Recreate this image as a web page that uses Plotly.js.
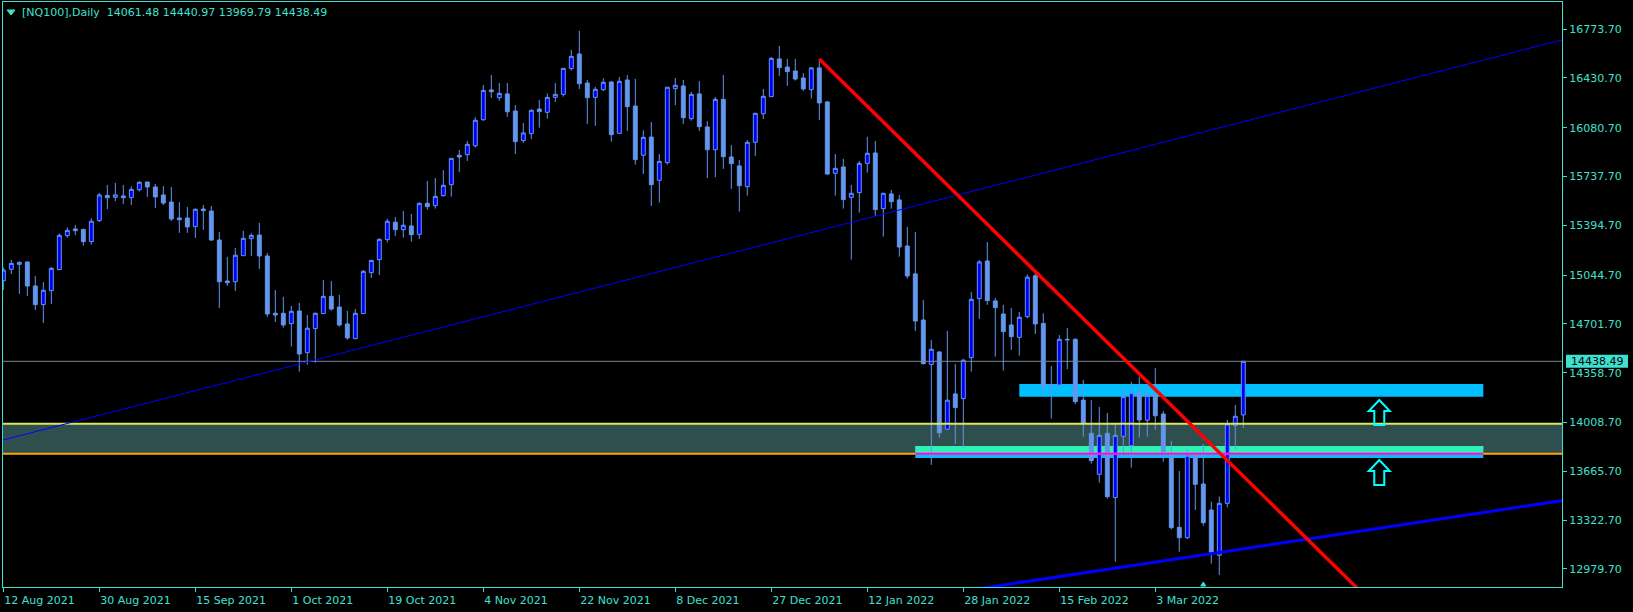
<!DOCTYPE html>
<html><head><meta charset="utf-8">
<script src="https://cdn.plot.ly/plotly-3.0.1.min.js"></script>
<style>html,body{margin:0;padding:0;background:#000;}#chart{width:1633px;height:612px;}</style>
</head><body><div id="chart"></div>
<script>
// ---- Daily OHLC, NQ100, 12 Aug 2021 .. 18 Mar 2022 (one entry per bar) ----
const openP = [15005,15085,15120,15137,14968,14837,14935,15083,15322,15369,15366,15280,15427,15605,15591,15601,15589,15645,15699,15664,
15608,15558,15446,15446,15385,15509,15495,15291,15003,14998,15181,15301,15326,15179,14776,14776,14703,14792,14499,14668,
14774,14895,14820,14701,14598,14774,15062,15153,15294,15416,15364,15390,15331,15549,15533,15603,15680,15887,15891,15954,
16137,16346,16292,16318,16198,15990,16039,16212,16189,16294,16315,16496,16599,16395,16294,16348,16402,16041,16416,16233,
15887,16015,15711,15835,16355,16374,16144,16318,16086,15926,16280,15875,15812,15666,15978,16179,16299,16564,16507,16479,
16430,16348,16501,16262,15760,15805,15591,15624,15830,15903,15512,15615,15573,15249,15053,14729,14417,14504,13961,14209,
14176,14464,14879,15144,14863,14771,14694,14607,14752,15040,14705,14263,14272,14593,14593,14166,13932,13644,13932,13480,
13911,13845,14223,14024,14197,14068,13768,13271,13199,13778,13576,13393,13075,13440,13988,14061.48];
const highP = [15099,15151,15141,15137,15038,14996,15102,15338,15380,15397,15369,15444,15622,15678,15692,15678,15669,15704,15699,15685,
15671,15664,15558,15523,15514,15537,15530,15348,15172,15235,15355,15338,15411,15200,14940,14891,14828,14849,14764,14781,
15010,15003,14905,14792,14806,15081,15151,15303,15439,15453,15495,15474,15556,15706,15727,15783,15868,15924,15987,16154,
16381,16451,16395,16395,16240,16114,16210,16276,16322,16393,16498,16627,16761,16416,16367,16428,16409,16437,16451,16423,
16062,16121,15896,16365,16430,16416,16332,16409,16128,16297,16451,15959,15854,15994,16184,16353,16578,16655,16564,16564,
16465,16508,16564,16269,15896,15861,15678,15847,16016,15987,15622,15643,15608,15383,15348,14870,14589,14511,14652,14420,
14455,14926,15151,15277,14884,14835,14814,14785,15050,15065,14776,14405,14623,14673,14600,14307,14166,14117,14075,13993,
14260,14295,14330,14267,14391,14089,13878,13667,13822,13790,13857,13452,13487,14026,14131,14440.97];
const lowP = [14940,15052,14912,14898,14799,14708,14841,15080,15308,15326,15251,15259,15418,15509,15565,15544,15537,15631,15594,15516,
15537,15425,15341,15341,15305,15362,15284,14813,14968,14933,15179,15179,15088,14750,14715,14675,14542,14366,14415,14429,
14774,14795,14682,14589,14593,14771,15024,15045,15273,15320,15308,15280,15298,15505,15512,15596,15596,15769,15847,15940,
16128,16290,16271,16158,15896,15973,16001,16081,16144,16261,16299,16482,16353,16107,16093,16339,15983,16041,16058,15821,
15755,15530,15554,15821,16240,16107,16130,16058,15727,15734,15791,15650,15491,15603,15882,16142,16299,16444,16374,16412,
16341,16285,16135,15748,15603,15512,15153,15484,15765,15460,15315,15512,15174,15020,14652,14415,13710,13902,13956,13858,
13834,14366,14736,14835,14471,14373,14518,14478,14740,14630,14190,14035,14237,14384,14138,13909,13719,13585,13473,13030,
13780,13691,13902,13909,13958,13733,13257,13100,13189,13393,13283,13016,12936,13412,13820,13969.79];
const closeP = [15080,15127,15134,14968,14837,14938,15092,15324,15359,15357,15280,15423,15608,15589,15608,15589,15647,15697,15664,15594,
15551,15439,15434,15383,15507,15498,15291,14998,14991,15184,15303,15324,15179,14771,14764,14694,14790,14490,14671,14776,
14895,14806,14694,14603,14776,15071,15148,15296,15423,15364,15395,15329,15549,15526,15598,15676,15865,15875,15964,16133,
16343,16334,16322,16193,15983,16044,16203,16194,16294,16315,16498,16582,16390,16292,16351,16400,16032,16407,16229,15856,
16013,15680,15844,16365,16379,16151,16315,16088,15926,16280,15877,15828,15673,15978,16182,16301,16568,16503,16475,16423,
16353,16501,16255,15755,15795,15575,15620,15830,15901,15505,15620,15561,15242,15039,14722,14422,14523,13937,14165,14113,
14446,14874,15137,14865,14816,14647,14612,14748,15030,14701,14260,14266,14593,14590,14155,14002,13740,13918,13487,13918,
14190,14218,14026,14197,14056,13803,13269,13199,13778,13574,13304,13096,13440,13998,14052,14438.49];

// ---- axis labels ----
const dateTickBars = [0,12,24,36,48,60,72,84,96,108,120,132,144];
const dateTickText = ['12 Aug 2021','30 Aug 2021','15 Sep 2021','1 Oct 2021','19 Oct 2021','4 Nov 2021','22 Nov 2021','8 Dec 2021','27 Dec 2021','12 Jan 2022','28 Jan 2022','15 Feb 2022','3 Mar 2022'];
const priceTicks = [16773.70,16430.70,16080.70,15737.70,15394.70,15044.70,14701.70,14358.70,14008.70,13665.70,13322.70,12979.70];
const lastPrice = 14438.49;
const headerText = '[NQ100],Daily\u00a0\u00a014061.48 14440.97 13969.79 14438.49';

// ---- drawn objects (bar index, price) ----
const thinTrend = {x:[34.375,127.09], y:[14382,15720]};
const redTrend = {x:[102,156.675], y:[16564,13538.6]};
const thickTrend = {x:[129.17,194.84], y:[12901,13459]};
const bandLevels = {upper:14000, lower:13789};
const upperZone = {x:[127,185], y:[14190,14279]};
const lowerZone = {x:[114,185], y:[13759,13843], greenTop:13843, greenBottom:13796, magenta:13789};
const arrowTips = {x:[172,172], y:[14166,13745]};
const signalMark = {x:150};

const C = '#40E0D0';
const W = 1633, H = 612, ML = 3, MR = 71, MT = 2, MB = 25;
const plotW = W - ML - MR;
const barX = openP.map((_, i) => i);

const trace = {
  type:'candlestick', x:barX, open:openP, high:highP, low:lowP, close:closeP,
  increasing:{line:{color:'#6495ED', width:1}, fillcolor:'#0000FF'},
  decreasing:{line:{color:'#6495ED', width:1}, fillcolor:'#6495ED'},
  whiskerwidth:0, hoverinfo:'skip'
};

function ray(p, x0, x1) {
  const s = (p.y[1]-p.y[0])/(p.x[1]-p.x[0]);
  return {x0:x0, y0:p.y[0]+s*(x0-p.x[0]), x1:x1, y1:p.y[0]+s*(x1-p.x[0])};
}

const shapes = [];
// background band and zones
shapes.push({type:'rect', xref:'paper', x0:0, x1:1, yref:'y', y0:bandLevels.lower, y1:bandLevels.upper, fillcolor:'#2F4F4F', line:{width:0}, layer:'below'});
shapes.push({type:'rect', xref:'x', yref:'y', x0:upperZone.x[0], x1:upperZone.x[1], y0:upperZone.y[0], y1:upperZone.y[1], fillcolor:'#00BFFF', line:{width:0}, layer:'below'});
shapes.push({type:'rect', xref:'x', yref:'y', x0:lowerZone.x[0], x1:lowerZone.x[1], y0:lowerZone.y[0], y1:lowerZone.y[1], fillcolor:'#00BFFF', line:{width:0}, layer:'below'});
shapes.push({type:'rect', xref:'x', yref:'y', x0:lowerZone.x[0], x1:lowerZone.x[1], y0:lowerZone.greenBottom, y1:lowerZone.greenTop, fillcolor:'#2EF2B4', line:{width:0}, layer:'below'});
// horizontal levels
shapes.push({type:'line', xref:'paper', x0:0, x1:1, yref:'y', y0:bandLevels.upper, y1:bandLevels.upper, line:{color:'#DCE65A', width:2}});
shapes.push({type:'line', xref:'paper', x0:0, x1:1, yref:'y', y0:bandLevels.lower, y1:bandLevels.lower, line:{color:'#FFA500', width:2}});
shapes.push({type:'line', xref:'x', x0:lowerZone.x[0], x1:lowerZone.x[1], yref:'y', y0:lowerZone.magenta, y1:lowerZone.magenta, line:{color:'#FF00FF', width:2}});
shapes.push({type:'line', xref:'paper', x0:0, x1:1, yref:'y', y0:lastPrice, y1:lastPrice, line:{color:'#778899', width:1}});
// trend lines
shapes.push(Object.assign({type:'line', xref:'x', yref:'y', line:{color:'#0000FF', width:1}}, ray(thinTrend, -2, 200)));
shapes.push(Object.assign({type:'line', xref:'x', yref:'y', line:{color:'#0000FF', width:3}}, ray(thickTrend, 100, 200)));
shapes.push(Object.assign({type:'line', xref:'x', yref:'y', line:{color:'#FF0000', width:3.5}}, ray(redTrend, redTrend.x[0], 200)));
// up arrows
const arrowPath = 'M0,0 L10.5,-11 L5,-11 L5,-25 L-5,-25 L-5,-11 L-10.5,-11 Z';
arrowTips.x.forEach((ax, k) => {
  shapes.push({type:'path', xref:'x', yref:'y', xsizemode:'pixel', ysizemode:'pixel', xanchor:ax, yanchor:arrowTips.y[k], path:arrowPath, line:{color:'#00FFFF', width:2}, fillcolor:'rgba(0,0,0,0)'});
});
// small signal triangle on the time axis
shapes.push({type:'path', xref:'x', yref:'paper', xsizemode:'pixel', ysizemode:'pixel', xanchor:signalMark.x, yanchor:0, path:'M-2.5,1 L2.5,1 L0,5 Z', fillcolor:C, line:{color:C, width:1}});
// header triangle
shapes.push({type:'path', xref:'paper', yref:'paper', xsizemode:'pixel', ysizemode:'pixel', xanchor:0, yanchor:1, path:'M4,-8 L12,-8 L8,-13 Z', fillcolor:C, line:{color:C, width:1}});
// last price tag box on the price scale
shapes.push({type:'rect', xref:'paper', yref:'y', x0:1 + 4/plotW, x1:1 + 66/plotW, ysizemode:'pixel', yanchor:lastPrice, y0:-6.5, y1:6.5, fillcolor:C, line:{width:0}});

const annotations = [
  {xref:'paper', yref:'paper', x:0, y:1, xanchor:'left', yanchor:'top', xshift:17, yshift:-2, text:headerText, showarrow:false, font:{family:'DejaVu Sans', size:11, color:C}},
  {xref:'paper', yref:'y', x:1 + 35/plotW, y:lastPrice, xanchor:'center', yanchor:'middle', text:lastPrice.toFixed(2), showarrow:false, font:{family:'DejaVu Sans', size:11, color:'#000'}}
];

const layout = {
  width:W, height:H,
  margin:{l:ML, r:MR, t:MT, b:MB, pad:0},
  paper_bgcolor:'#000', plot_bgcolor:'#000',
  showlegend:false, dragmode:false,
  font:{family:'DejaVu Sans', size:11, color:C},
  xaxis:{range:[-0.04,194.84], tickmode:'array', tickvals:dateTickBars, ticktext:dateTickText,
    ticks:'outside', ticklen:4, tickcolor:C, ticklabelposition:'outside right', ticklabelstandoff:3,
    showgrid:false, zeroline:false, showline:true, mirror:true, linecolor:C, linewidth:1,
    rangeslider:{visible:false}, fixedrange:true, tickfont:{family:'DejaVu Sans', size:11, color:C}},
  yaxis:{side:'right', range:[12851.8,16964.4], tickmode:'array', tickvals:priceTicks, ticktext:priceTicks.map(v=>v.toFixed(2)),
    ticks:'outside', ticklen:4, tickcolor:C, showgrid:false, zeroline:false, showline:true, mirror:true, linecolor:C, linewidth:1,
    fixedrange:true, tickfont:{family:'DejaVu Sans', size:11, color:C}},
  shapes:shapes, annotations:annotations
};

Plotly.newPlot('chart', [trace], layout, {displayModeBar:false, staticPlot:true});
</script></body></html>
